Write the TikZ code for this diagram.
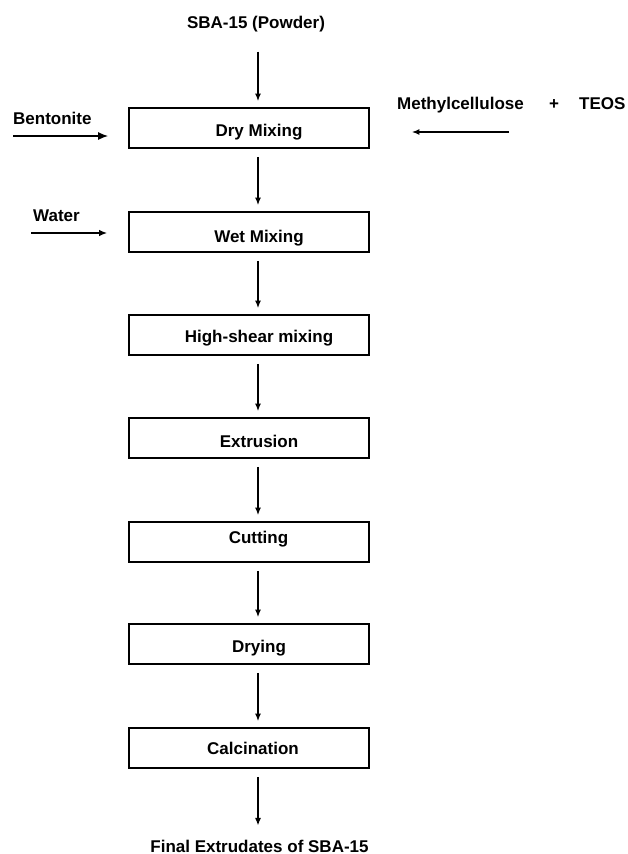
\documentclass[tikz,border=0pt]{standalone}
\usepackage{fontspec}
\setmainfont{Liberation Sans}
\usetikzlibrary{arrows.meta,positioning}

\tikzset{
  procbox/.style={draw, line width=1.8pt, minimum width=240pt, minimum height=40pt, inner sep=0pt},
  boxtext/.style={font=\fontsize{17}{20}\selectfont\bfseries, inner sep=0pt},
  flow/.style={line width=1.3pt, -{Latex[length=7.5pt,width=6pt]}, shorten <=8pt, shorten >=6pt},
}

\begin{document}
\begin{tikzpicture}[x=1pt,y=-1pt]
  \useasboundingbox (0,0) rectangle (628,854);

  % spine of the process chain
  \coordinate (spine) at (258,0);

  % feed and product
  \node[boxtext, anchor=base] (sba) at (256,28) {SBA-15 (Powder)};
  \node[boxtext, anchor=base] (final) at (259.5,852) {Final Extrudates of SBA-15};

  % process steps
  \node[procbox, label={[boxtext,anchor=base,xshift=10pt,yshift=-4pt]center:Dry Mixing}] (dry) at (249,128) {};
  \node[procbox, label={[boxtext,anchor=base,xshift=10pt,yshift=-6pt]center:Wet Mixing}] (wet) at (249,232) {};
  \node[procbox, label={[boxtext,anchor=base,xshift=10pt,yshift=-3pt]center:High-shear mixing}] (shear) at (249,335) {};
  \node[procbox, label={[boxtext,anchor=base,xshift=10pt,yshift=-3.5pt]center:Extrusion}] (extr) at (249,438) {};
  \node[procbox, label={[boxtext,anchor=base,xshift=9.5pt,yshift=2.5pt]center:Cutting}] (cut) at (249,542) {};
  \node[procbox, label={[boxtext,anchor=base,xshift=10pt,yshift=-4pt]center:Drying}] (drying) at (249,644) {};
  \node[procbox, label={[boxtext,anchor=base,xshift=4pt,yshift=0pt]center:Calcination}] (calc) at (249,748) {};

  % side inputs
  \node[boxtext, anchor=base west] (bent) at (13,124) {Bentonite};
  \node[boxtext, anchor=base west] (water) at (33,221) {Water};
  \node[boxtext, anchor=base west] (methyl) at (397,109) {Methylcellulose};
  \node[boxtext, anchor=base] (plus) at (554,109) {+};
  \node[boxtext, anchor=base west] (teos) at (579,109) {TEOS};
  \coordinate (bentin) at (13,136);
  \coordinate (waterin) at (31,233);
  \coordinate (methylin) at (509,132);

  % main flow
  \draw[flow, shorten <=20pt] (sba.south -| spine) -- (dry.north -| spine);
  \draw[flow] (dry.south -| spine) -- (wet.north -| spine);
  \draw[flow] (wet.south -| spine) -- (shear.north -| spine);
  \draw[flow] (shear.south -| spine) -- (extr.north -| spine);
  \draw[flow] (extr.south -| spine) -- (cut.north -| spine);
  \draw[flow] (cut.south -| spine) -- (drying.north -| spine);
  \draw[flow] (drying.south -| spine) -- (calc.north -| spine);
  \draw[flow, shorten >=14pt] (calc.south -| spine) -- (final.north -| spine);

  % additions
  \draw[flow, -{Latex[length=10pt,width=8pt]}, shorten <=0pt, shorten >=20pt] (bentin) -- (bentin -| dry.west);
  \draw[flow, -{Latex[length=8pt,width=6.5pt]}, shorten <=0pt, shorten >=21pt] (waterin) -- (waterin -| wet.west);
  \draw[flow, shorten <=0pt, shorten >=42pt] (methylin) -- (methylin -| dry.east);
\end{tikzpicture}
\end{document}
